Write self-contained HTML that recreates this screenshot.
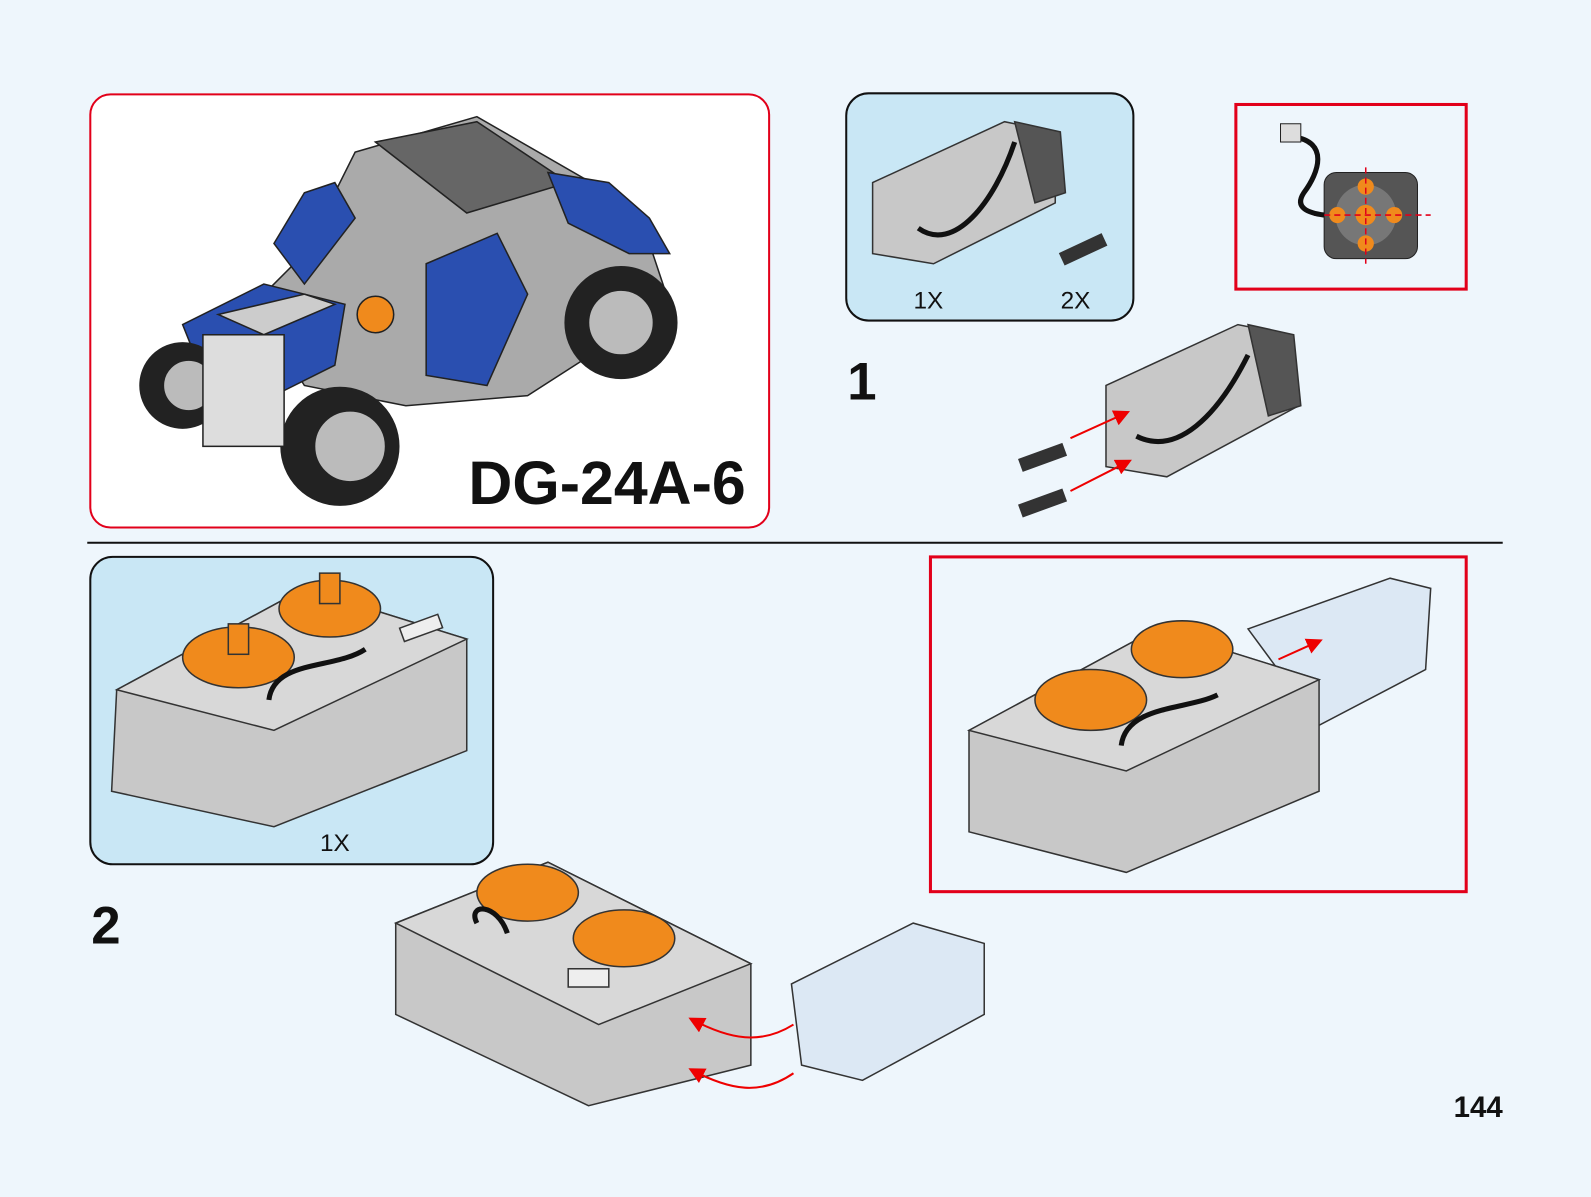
<!DOCTYPE html>
<html><head><meta charset="utf-8"><style>
html,body{margin:0;padding:0;}
body{width:1591px;height:1197px;background:#eef6fc;position:relative;overflow:hidden;font-family:"Liberation Sans",Arial,sans-serif;}
.a{position:absolute;}
</style></head><body>
<svg class="a" style="left:0;top:0" width="1591" height="1197" viewBox="0 0 1568 1180" preserveAspectRatio="none">
<defs>
<marker id="ah" markerWidth="8" markerHeight="8" refX="6" refY="4" orient="auto"><path d="M0,0 L8,4 L0,8 z" fill="#e00"/></marker>
</defs>
<rect x="89" y="93" width="669" height="427" rx="20" fill="#fff" stroke="#e2001a" stroke-width="2"/>
<g stroke="#222" stroke-width="1.5">
<polygon points="350,150 470,115 600,190 640,240 660,300 520,390 400,400 300,380 250,300 300,250" fill="#aaa"/>
<polygon points="370,140 470,120 560,180 460,210" fill="#666"/>
<polygon points="270,240 300,190 330,180 350,215 300,280" fill="#2a4fb0"/>
<polygon points="540,170 600,180 640,215 660,250 620,250 560,220" fill="#2a4fb0"/>
<polygon points="180,320 260,280 340,300 330,360 270,390 200,370" fill="#2a4fb0"/>
<polygon points="420,260 490,230 520,290 480,380 420,370" fill="#2a4fb0"/>
<polygon points="215,310 300,290 330,300 260,330" fill="#ccc"/>
<circle cx="612" cy="318" r="55" fill="#222"/><circle cx="612" cy="318" r="32" fill="#bbb"/>
<circle cx="335" cy="440" r="58" fill="#222"/><circle cx="345" cy="440" r="35" fill="#bbb"/>
<circle cx="180" cy="380" r="42" fill="#222"/><circle cx="186" cy="380" r="25" fill="#bbb"/>
<rect x="200" y="330" width="80" height="110" fill="#ddd"/>
<circle cx="370" cy="310" r="18" fill="#f08a1c"/>
</g>
<text x="735" y="497" text-anchor="end" font-size="60" font-weight="bold" fill="#111">DG-24A-6</text>
<rect x="834" y="92" width="283" height="224" rx="22" fill="#c9e7f5" stroke="#111" stroke-width="2"/>
<g stroke="#333" stroke-width="1.5">
<polygon points="860,180 990,120 1040,130 1040,200 920,260 860,250" fill="#c8c8c8"/>
<polygon points="1000,120 1045,130 1050,190 1020,200" fill="#555"/>
<path d="M905,225 C940,250 980,200 1000,140 1020,120" fill="none" stroke="#111" stroke-width="5"/>
<rect x="1045" y="240" width="45" height="12" fill="#333" transform="rotate(-25 1067 246)"/>
</g>
<text x="915" y="304" text-anchor="middle" font-size="24" fill="#111">1X</text>
<text x="1060" y="304" text-anchor="middle" font-size="24" fill="#111">2X</text>
<rect x="1218" y="103" width="227" height="182" fill="none" stroke="#e2001a" stroke-width="3"/>
<rect x="1305" y="170" width="92" height="85" rx="12" fill="#555" stroke="#222"/>
<circle cx="1346" cy="212" r="30" fill="#777"/>
<circle cx="1346" cy="212" r="10" fill="#f08a1c"/><circle cx="1318" cy="212" r="8" fill="#f08a1c"/><circle cx="1374" cy="212" r="8" fill="#f08a1c"/><circle cx="1346" cy="184" r="8" fill="#f08a1c"/><circle cx="1346" cy="240" r="8" fill="#f08a1c"/>
<path d="M1295,212 H1410 M1346,165 V260" stroke="#e2001a" stroke-dasharray="6,4" stroke-width="1.5"/>
<path d="M1275,135 C1310,140 1300,170 1285,190 1275,205 1290,210 1305,212" fill="none" stroke="#111" stroke-width="5"/>
<rect x="1262" y="122" width="20" height="18" fill="#ddd" stroke="#222"/>
<text x="835" y="394" font-size="52" font-weight="bold" fill="#111">1</text>
<g stroke="#333" stroke-width="1.5">
<polygon points="1090,380 1220,320 1270,330 1280,400 1150,470 1090,460" fill="#c8c8c8"/>
<polygon points="1230,320 1275,330 1282,400 1250,410" fill="#555"/>
<path d="M1120,430 C1160,450 1200,410 1230,350 1250,330" fill="none" stroke="#111" stroke-width="5"/>
<rect x="1005" y="445" width="45" height="12" fill="#333" transform="rotate(-20 1027 451)"/>
<rect x="1005" y="490" width="45" height="12" fill="#333" transform="rotate(-20 1027 496)"/>
</g>
<line x1="1055" y1="432" x2="1110" y2="407" stroke="#e00" stroke-width="2" marker-end="url(#ah)"/>
<line x1="1055" y1="484" x2="1112" y2="455" stroke="#e00" stroke-width="2" marker-end="url(#ah)"/>
<line x1="86" y1="535" x2="1481" y2="535" stroke="#111" stroke-width="2"/>
<rect x="89" y="549" width="397" height="303" rx="22" fill="#c9e7f5" stroke="#111" stroke-width="2"/>
<g stroke="#333" stroke-width="1.5">
<polygon points="115,680 300,580 460,630 460,740 270,815 110,780" fill="#c8c8c8"/>
<polygon points="115,680 300,580 460,630 270,720" fill="#d8d8d8"/>
<ellipse cx="235" cy="648" rx="55" ry="30" fill="#f08a1c"/>
<ellipse cx="325" cy="600" rx="50" ry="28" fill="#f08a1c"/>
<rect x="225" y="615" width="20" height="30" fill="#f08a1c"/><rect x="315" y="565" width="20" height="30" fill="#f08a1c"/>
<path d="M265,690 C270,650 330,660 360,640 400,630" fill="none" stroke="#111" stroke-width="5"/>
<rect x="395" y="612" width="40" height="14" fill="#eee" transform="rotate(-20 415 619)"/>
</g>
<text x="330" y="839" text-anchor="middle" font-size="24" fill="#111">1X</text>
<text x="90" y="930" font-size="52" font-weight="bold" fill="#111">2</text>
<rect x="917" y="549" width="528" height="330" fill="none" stroke="#e2001a" stroke-width="3"/>
<g stroke="#333" stroke-width="1.5">
<polygon points="1230,620 1370,570 1410,580 1405,660 1300,715" fill="#dce8f4"/>
<polygon points="955,720 1140,620 1300,670 1300,780 1110,860 955,820" fill="#c8c8c8"/>
<polygon points="955,720 1140,620 1300,670 1110,760" fill="#d8d8d8"/>
<ellipse cx="1075" cy="690" rx="55" ry="30" fill="#f08a1c"/>
<ellipse cx="1165" cy="640" rx="50" ry="28" fill="#f08a1c"/>
<path d="M1105,735 C1110,695 1170,700 1200,685 1260,660" fill="none" stroke="#111" stroke-width="5"/>
</g>
<line x1="1260" y1="650" x2="1300" y2="632" stroke="#e00" stroke-width="2" marker-end="url(#ah)"/>
<g stroke="#333" stroke-width="1.5">
<polygon points="390,910 540,850 740,950 740,1050 580,1090 390,1000" fill="#c8c8c8"/>
<polygon points="390,910 540,850 740,950 590,1010" fill="#d8d8d8"/>
<ellipse cx="520" cy="880" rx="50" ry="28" fill="#f08a1c"/>
<ellipse cx="615" cy="925" rx="50" ry="28" fill="#f08a1c"/>
<path d="M470,910 C460,890 490,890 500,920 540,950 570,960" fill="none" stroke="#111" stroke-width="5"/>
<rect x="560" y="955" width="40" height="18" fill="#eee"/>
<polygon points="780,970 900,910 970,930 970,1000 850,1065 790,1050" fill="#dce8f4"/>
</g>
<path d="M782,1010 C750,1030 720,1025 682,1005" fill="none" stroke="#e00" stroke-width="2" marker-end="url(#ah)"/>
<path d="M782,1058 C750,1080 720,1075 682,1055" fill="none" stroke="#e00" stroke-width="2" marker-end="url(#ah)"/>
<text x="1481" y="1101" text-anchor="end" font-size="29" font-weight="bold" fill="#111">144</text>
</svg>
</body></html>
